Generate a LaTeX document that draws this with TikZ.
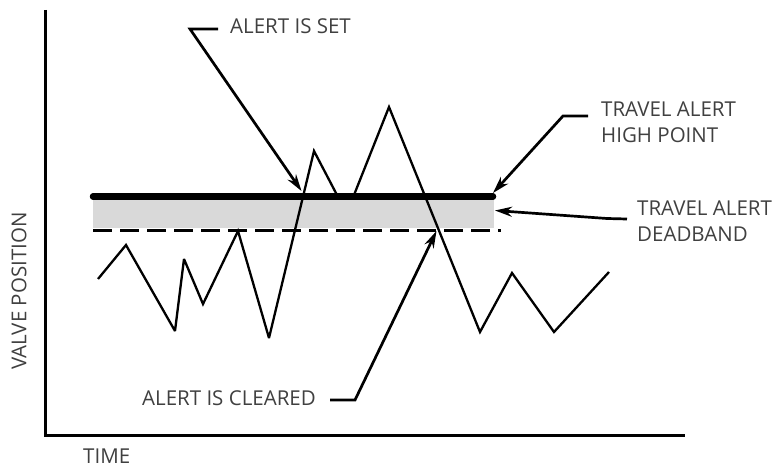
\documentclass[tikz,border=0pt]{standalone}
\usepackage{fontspec}
\setmainfont{Open Sans}
\usetikzlibrary{arrows.meta}
\begin{document}
\begin{tikzpicture}[x=1pt,y=-1pt,
  lbl/.style={inner sep=0pt, text=black!75, font=\fontsize{20.5}{26}\selectfont},
  axisline/.style={line width=3pt, line join=miter},
  leader/.style={line width=2.7pt, line join=miter, -{Stealth[length=17pt,width=10pt]}},
  signal/.style={line width=2.3pt, line join=miter, miter limit=3},
  alertline/.style={line width=6.5pt, line cap=round},
  deadband/.style={fill=black!15, draw=none},
  lowline/.style={line width=2.5pt, dash pattern=on 19pt off 8pt}]
\useasboundingbox (0,0) rectangle (777,468);

% axes
\coordinate (ytop) at (45,10);
\coordinate (orig) at (45,435);
\coordinate (xend) at (685,435);
\draw[axisline] (ytop) -- (orig) -- (xend);
\node[lbl, anchor=west] (time) at (83,456) {TIME};
\node[lbl, rotate=90] (valve) at (19,291) {VALVE POSITION};

% deadband and limits
\fill[deadband] (93,199.5) rectangle (494,228);
\coordinate (hiL) at (93,196.5);
\coordinate (hiR) at (493,196.5);
\draw[alertline] (hiL) -- (hiR);
\coordinate (loL) at (93,230.5);
\coordinate (loR) at (501,230.5);
\draw[lowline] (loL) -- (loR);

% signal
\draw[signal] (98,279) -- (126,245) -- (175,331) -- (184,259) -- (203,304)
  -- (238,231) -- (269,338) -- (314,151) -- (337,195) -- (354,195)
  -- (389,107) -- (480,332) -- (512,273) -- (554,332) -- (609,272);

% labels
\node[lbl, anchor=west] (set) at (230,26.5) {ALERT IS SET};
\node[lbl, anchor=west, align=left] (high) at (601,122.4) {TRAVEL ALERT\\HIGH POINT};
\node[lbl, anchor=west, align=left] (band) at (637,221) {TRAVEL ALERT\\DEADBAND};
\node[lbl, anchor=west] (clr) at (142,398.5) {ALERT IS CLEARED};

% leaders
\coordinate (setA) at (218,29);
\coordinate (setB) at (190,29);
\coordinate (setT) at (301.5,191);
\draw[leader] (setA) -- (setB) -- (setT);

\coordinate (highA) at (588,116);
\coordinate (highB) at (563,116);
\coordinate (highT) at (493,193);
\draw[leader] (highA) -- (highB) -- (highT);

\coordinate (bandA) at (627,219);
\coordinate (bandB) at (607,218.5);
\coordinate (bandT) at (495,210.5);
\draw[leader] (bandA) -- (bandB) -- (bandT);

\coordinate (clrA) at (330,400);
\coordinate (clrB) at (355,400);
\coordinate (clrT) at (436.5,231);
\draw[leader] (clrA) -- (clrB) -- (clrT);
\end{tikzpicture}
\end{document}
